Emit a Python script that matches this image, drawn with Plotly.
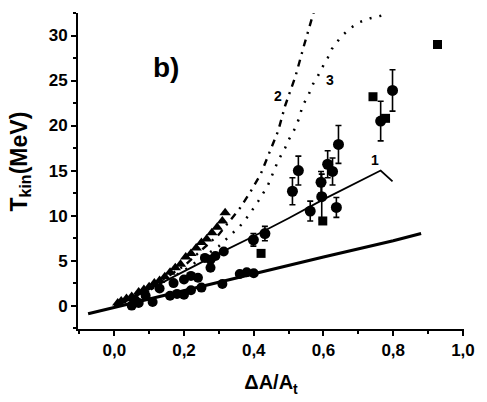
import plotly.graph_objects as go

# ---- data ----
curve1_x = [0.0, 0.1, 0.2, 0.3, 0.4, 0.5, 0.6, 0.7, 0.764, 0.798]
curve1_y = [-0.2, 1.8, 3.8, 5.8, 7.7, 9.7, 11.8, 13.8, 15.0, 13.8]

thick_x = [-0.075, 0.0, 0.2, 0.4, 0.6, 0.8, 0.88]
thick_y = [-0.9, -0.2, 1.7, 3.6, 5.4, 7.2, 8.0]

curve2_x = [0.0, 0.1, 0.2, 0.3, 0.36, 0.39, 0.42, 0.44, 0.47, 0.49, 0.52, 0.545, 0.57, 0.575]
curve2_y = [0.0, 1.9, 4.4, 7.9, 10.8, 12.6, 14.6, 16.6, 19.4, 22.2, 25.5, 29.0, 32.3, 33.0]

curve3_x = [0.0, 0.1, 0.2, 0.3, 0.33, 0.36, 0.385, 0.413, 0.44, 0.46, 0.47, 0.49, 0.50,
            0.52, 0.53, 0.54, 0.556, 0.57, 0.584, 0.60, 0.612, 0.624, 0.651, 0.68,
            0.705, 0.733, 0.758, 0.787]
curve3_y = [0.0, 1.7, 3.9, 6.6, 7.7, 8.8, 10.0, 11.6, 13.3, 15.2, 16.1, 17.5, 18.4,
            19.8, 20.8, 22.2, 23.3, 24.6, 25.5, 26.7, 27.5, 28.5, 29.9, 30.9,
            31.5, 31.9, 32.1, 32.4]

tri_x = [0.01, 0.02, 0.035, 0.05, 0.07, 0.085, 0.1, 0.115, 0.13, 0.145, 0.16, 0.175,
         0.19, 0.205, 0.22, 0.235, 0.25, 0.265, 0.28, 0.295, 0.31, 0.318]
tri_y = [0.3, 0.5, 0.8, 1.0, 1.5, 1.8, 2.1, 2.5, 2.8, 3.2, 3.7, 4.2,
         4.6, 5.4, 5.8, 6.4, 7.0, 7.4, 8.1, 8.7, 9.4, 10.3]

circ_low_x = [0.05, 0.07, 0.11, 0.16, 0.18, 0.2, 0.22, 0.25, 0.31, 0.36, 0.38, 0.40]
circ_low_y = [0.0, 0.3, 0.4, 1.1, 1.3, 1.2, 1.7, 2.0, 2.4, 3.5, 3.7, 3.6]

circ_mid_x = [0.06, 0.09, 0.13, 0.17, 0.2, 0.22, 0.24, 0.26, 0.276, 0.276, 0.29, 0.314]
circ_mid_y = [0.6, 1.1, 1.9, 2.5, 2.9, 3.3, 3.1, 5.3, 4.2, 5.1, 5.5, 6.0]

circ_err_x = [0.399, 0.432, 0.511, 0.528, 0.562, 0.593, 0.595, 0.612, 0.626, 0.637, 0.643, 0.764, 0.798]
circ_err_y = [7.3, 8.0, 12.7, 15.0, 10.5, 13.7, 12.1, 15.7, 14.9, 10.9, 17.9, 20.5, 23.9]
circ_err_e = [0.7, 0.8, 1.5, 1.6, 1.1, 1.2, 2.5, 1.5, 1.5, 1.1, 2.1, 2.2, 2.3]

sq_x = [0.421, 0.598, 0.742, 0.778, 0.927]
sq_y = [5.8, 9.4, 23.2, 20.8, 29.0]

x_tick_vals = [0.0, 0.2, 0.4, 0.6, 0.8, 1.0]
x_tick_text = ["0,0", "0,2", "0,4", "0,6", "0,8", "1,0"]
y_tick_vals = [0, 5, 10, 15, 20, 25, 30]

FONT = "Liberation Sans, Arial, sans-serif"

fig = go.Figure()

fig.add_trace(go.Scatter(x=thick_x, y=thick_y, mode="lines",
                         line=dict(color="black", width=3.2), showlegend=False))
fig.add_trace(go.Scatter(x=curve1_x, y=curve1_y, mode="lines",
                         line=dict(color="black", width=1.8), showlegend=False))
fig.add_trace(go.Scatter(x=curve2_x, y=curve2_y, mode="lines",
                         line=dict(color="black", width=2.4, dash="7px,6px,2px,6px"),
                         showlegend=False))
fig.add_trace(go.Scatter(x=curve3_x, y=curve3_y, mode="lines",
                         line=dict(color="black", width=2.5, dash="2px,8px"),
                         showlegend=False))

fig.add_trace(go.Scatter(x=tri_x, y=tri_y, mode="markers",
                         marker=dict(symbol="triangle-up", size=10, color="black"),
                         showlegend=False))
fig.add_trace(go.Scatter(x=circ_low_x, y=circ_low_y, mode="markers",
                         marker=dict(symbol="circle", size=10, color="black"),
                         showlegend=False))
fig.add_trace(go.Scatter(x=circ_mid_x, y=circ_mid_y, mode="markers",
                         marker=dict(symbol="circle", size=10, color="black"),
                         showlegend=False))
fig.add_trace(go.Scatter(x=circ_err_x, y=circ_err_y, mode="markers",
                         marker=dict(symbol="circle", size=11, color="black"),
                         error_y=dict(type="data", array=circ_err_e, visible=True,
                                      color="black", thickness=1.6, width=3),
                         showlegend=False))
fig.add_trace(go.Scatter(x=sq_x, y=sq_y, mode="markers",
                         marker=dict(symbol="square", size=9, color="black"),
                         showlegend=False))

fig.update_layout(
    width=487, height=402,
    margin=dict(l=78, r=15, t=13, b=70),
    paper_bgcolor="white", plot_bgcolor="white",
    font=dict(family=FONT, color="black"),
    xaxis=dict(
        range=[-0.104, 1.003], showgrid=False, zeroline=False,
        showline=True, linecolor="black", linewidth=2,
        ticks="outside", ticklen=5, tickwidth=2, tickcolor="black",
        tickvals=x_tick_vals, ticktext=x_tick_text,
        tickfont=dict(size=17, family=FONT, weight="bold"),
        minor=dict(dtick=0.1, tick0=0, ticks="outside", ticklen=3, tickwidth=1.5,
                   tickcolor="black"),
        title=dict(text="<b>ΔA/A<sub>t</sub></b>", font=dict(size=20, family=FONT),
                   standoff=16),
    ),
    yaxis=dict(
        range=[-2.6, 32.5], showgrid=False, zeroline=False,
        showline=True, linecolor="black", linewidth=2,
        ticks="outside", ticklen=5, tickwidth=2, tickcolor="black",
        tickvals=y_tick_vals,
        tickfont=dict(size=17, family=FONT, weight="bold"),
        minor=dict(dtick=2.5, tick0=0, ticks="outside", ticklen=3, tickwidth=1.5,
                   tickcolor="black"),
    ),
    annotations=[
        dict(text="<b>T<sub>kin</sub>(MeV)</b>", xref="paper", yref="paper",
             x=-0.15, y=0.53, xanchor="center", yanchor="middle", textangle=-90,
             showarrow=False, font=dict(size=23, family=FONT)),
        dict(text="<b>b)</b>", x=0.149, y=26.4, showarrow=False,
             font=dict(size=28, family=FONT)),
        dict(text="<b>1</b>", x=0.747, y=16.2, showarrow=False,
             font=dict(size=14, family=FONT)),
        dict(text="<b>2</b>", x=0.469, y=23.3, showarrow=False,
             font=dict(size=14, family=FONT)),
        dict(text="<b>3</b>", x=0.618, y=25.1, showarrow=False,
             font=dict(size=14, family=FONT)),
    ],
)

fig.write_html("out.html")
